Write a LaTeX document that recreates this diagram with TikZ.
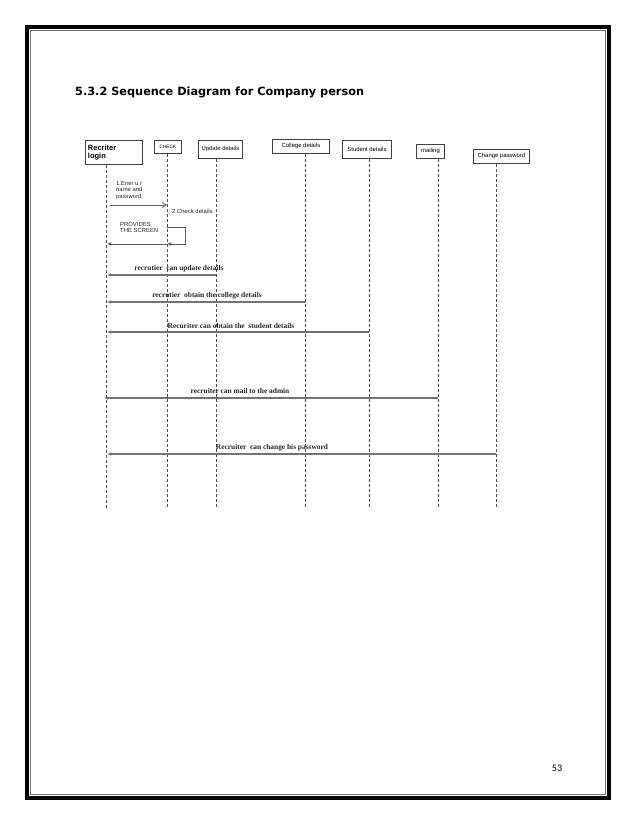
\documentclass[tikz,border=0pt]{standalone}
\usepackage{fontspec}
\setmainfont{Liberation Serif}
\newfontfamily\arialf{Liberation Sans}
\newfontfamily\verd{DejaVu Sans}
\newfontfamily\calib{Carlito}
\usetikzlibrary{arrows.meta}
\tikzset{
  objbox/.style={draw=black!75, line width=0.9pt, fill=white, inner sep=1pt, font=\arialf\fontsize{5.9}{7}\selectfont},
  lifeline/.style={draw=black!70, line width=0.8pt, dash pattern=on 3pt off 2pt},
  msg/.style={draw=black!55, line width=1.1pt, -{Latex[length=4pt,width=3.5pt]}},
  openmsg/.style={draw=black!60, line width=0.9pt, -{Straight Barb[length=4pt,width=5pt]}},
  msglabel/.style={font=\bfseries\fontsize{7.4}{8}\selectfont, text=black!85, inner sep=0pt},
  smalllabel/.style={font=\arialf\fontsize{5.9}{6.4}\selectfont, align=left, inner sep=0pt, text=black!85}
}
\begin{document}
\begin{tikzpicture}[x=1pt,y=-1pt]
\useasboundingbox (0,0) rectangle (638,826);
% page frame
\draw[line width=4pt, black] (27,27) rectangle (609,798);
\draw[line width=0.8pt, black!55] (30.5,30.5) rectangle (605.5,794.5);
\node[font=\verd\bfseries\fontsize{11.3}{13}\selectfont, anchor=west, inner sep=0pt] (title) at (75,92) {5.3.2 Sequence Diagram for Company person};
\node[font=\calib\fontsize{10}{12}\selectfont, inner sep=0pt] (pnum) at (557,768) {53};

% objects
\node[objbox, minimum width=57pt, minimum height=24pt, align=left, anchor=north west, font=\arialf\bfseries\fontsize{7.5}{8.5}\selectfont, text width=52pt] (rl) at (85,140) {Recriter\\login};
\node[objbox, minimum width=27pt, minimum height=13pt, anchor=north west, font=\arialf\fontsize{4.8}{5.5}\selectfont] (chk) at (154,140) {CHECK};
\node[objbox, minimum width=44pt, minimum height=18pt, anchor=north west] (upd) at (198,140) {Update details};
\node[objbox, minimum width=57pt, minimum height=14pt, anchor=north west] (col) at (272,139) {College details};
\node[objbox, minimum width=49pt, minimum height=18pt, anchor=north west] (stu) at (342,140) {Student details};
\node[objbox, minimum width=28pt, minimum height=14pt, anchor=north west] (mail) at (416,144) {mailing};
\node[objbox, minimum width=56pt, minimum height=14pt, anchor=north west] (chg) at (473,149) {Change password};

% lifelines
\coordinate (rlB) at (106,508);
\coordinate (chkB) at (167,508);
\coordinate (updB) at (216,508);
\coordinate (colB) at (305,508);
\coordinate (stuB) at (369,508);
\coordinate (mailB) at (438,508);
\coordinate (chgB) at (496,508);
\draw[lifeline] (rl.south -| rlB) -- (rlB);
\draw[lifeline] (chk.south -| chkB) -- (chkB);
\draw[lifeline] (upd.south -| updB) -- (updB);
\draw[lifeline] (col.south -| colB) -- (colB);
\draw[lifeline] (stu.south -| stuB) -- (stuB);
\draw[lifeline] (mail.south -| mailB) -- (mailB);
\draw[lifeline] (chg.south -| chgB) -- (chgB);

% message 1
\coordinate (m1a) at (110,205);
\coordinate (m1b) at (167,205);
\draw[openmsg] (m1a) -- (m1b);
\node[smalllabel, anchor=north west] (m1t) at (116,181) {1.Ener u r\\name and\\password};
\node[smalllabel, anchor=west] (m2t) at (172,211.5) {2.Check details};

% provides the screen
\coordinate (s1) at (167,227);
\coordinate (s2) at (185,227);
\coordinate (s3) at (185,244);
\coordinate (s4) at (167,244);
\coordinate (s5) at (107,244);
\draw[black!65, line width=0.9pt, -{Latex[length=4pt,width=3.5pt]}] (s1) -- (s2) -- (s3) -- (s4);
\draw[black!65, line width=0.9pt, -{Latex[length=4pt,width=3.5pt]}] (s4) -- (s5);
\node[smalllabel, anchor=north west] (m3t) at (120,222) {PROVIDES\\THE SCREEN};

% returns
\coordinate (r1a) at (216,275); \coordinate (r1b) at (107,275);
\draw[msg] (r1a) -- (r1b);
\node[msglabel] (r1t) at (179,269) {recrutier\ \ can update details};

\coordinate (r2a) at (306,302); \coordinate (r2b) at (107,302);
\draw[msg] (r2a) -- (r2b);
\node[msglabel] (r2t) at (207,296) {recrutier\ \ obtain the college details};

\coordinate (r3a) at (369,332); \coordinate (r3b) at (107,332);
\draw[msg] (r3a) -- (r3b);
\node[msglabel] (r3t) at (231,326) {Recuriter can obtain the\ \ student details};

\coordinate (r4a) at (438,398); \coordinate (r4b) at (104,398);
\draw[msg] (r4a) -- (r4b);
\node[msglabel] (r4t) at (240,391) {recruiter can mail to the admin};

\coordinate (r5a) at (496,454); \coordinate (r5b) at (107,454);
\draw[msg] (r5a) -- (r5b);
\node[msglabel] (r5t) at (272,448) {Recruiter\ \ can change his password};
\end{tikzpicture}
\end{document}
